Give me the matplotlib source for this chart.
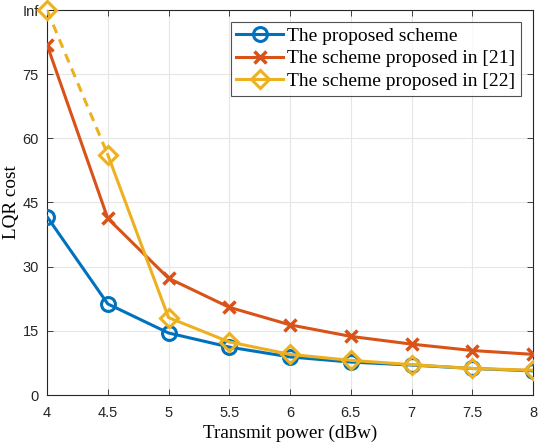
import numpy as np
import matplotlib
matplotlib.use("Agg")
import matplotlib.pyplot as plt

power = [4, 4.5, 5, 5.5, 6, 6.5, 7, 7.5, 8]
proposed = [41.7, 21.3, 14.5, 11.2, 8.9, 7.7, 7.0, 6.2, 5.65]
scheme21 = [81.9, 41.3, 27.3, 20.5, 16.4, 13.7, 11.9, 10.4, 9.5]
scheme22 = [np.inf, 56.2, 18.1, 12.4, 9.5, 8.1, 7.1, 6.2, 5.8]

yticks = [0, 15, 30, 45, 60, 75, 90]
yticklabels = ["0", "15", "30", "45", "60", "75", "Inf"]
xticks = [4, 4.5, 5, 5.5, 6, 6.5, 7, 7.5, 8]
xticklabels = ["4", "4.5", "5", "5.5", "6", "6.5", "7", "7.5", "8"]

c_blue = "#0072BD"
c_orange = "#D95319"
c_yellow = "#EDB120"

ymax = yticks[-1]

fig = plt.figure(figsize=(5.42, 4.44), dpi=100)
ax = fig.add_axes([47/542, 49/444, (533-47)/542, (395-10)/444])

lw = 2.2
ax.plot(power, proposed, color=c_blue, lw=lw, marker="o", ms=10, mfc="none",
        mew=2.2, label="The proposed scheme", zorder=3)
ax.plot(power, scheme21, color=c_orange, lw=lw, marker="x", ms=8, mew=2.5,
        label="The scheme proposed in [21]", zorder=3)

y22 = [ymax if np.isinf(v) else v for v in scheme22]
finite = [i for i, v in enumerate(scheme22) if np.isfinite(v)]
inf_idx = [i for i, v in enumerate(scheme22) if not np.isfinite(v)]
ax.plot([power[i] for i in finite], [y22[i] for i in finite], color=c_yellow,
        lw=lw, marker="D", ms=9, mfc="none", mew=2.2,
        label="The scheme proposed in [22]", zorder=4)
for i in inf_idx:
    j = i + 1
    ax.plot([power[i], power[j]], [y22[i], y22[j]], color=c_yellow, lw=lw,
            ls=(0, (3, 2.2)), zorder=4)
    ax.plot([power[i]], [y22[i]], color=c_yellow, marker="D", ms=9,
            mfc="none", mew=2.2, zorder=5, clip_on=False)

ax.set_xlim(4, 8)
ax.set_ylim(0, ymax)
ax.set_xticks(xticks)
ax.set_xticklabels(xticklabels)
ax.set_yticks(yticks)
ax.set_yticklabels(yticklabels)
for lab in ax.get_xticklabels() + ax.get_yticklabels():
    lab.set_family("Liberation Sans")
    lab.set_fontsize(10.5)
    lab.set_color("#262626")

ax.tick_params(direction="in", top=True, right=True, length=4, width=0.6,
               color="#262626")
ax.tick_params(axis="x", pad=8)
ax.tick_params(axis="y", pad=6)
ax.grid(True, color="#e6e6e6", lw=0.8)
ax.set_axisbelow(True)
for s in ax.spines.values():
    s.set_color("#262626")
    s.set_linewidth(0.8)

ax.set_xlabel("Transmit power (dBw)", family="Liberation Serif", fontsize=13.8,
              labelpad=3)
ax.set_ylabel("LQR cost", family="Liberation Serif", fontsize=13.8, labelpad=2)

leg = ax.legend(loc="upper right", bbox_to_anchor=(0.975, 0.97),
                prop={"family": "Liberation Serif", "size": 14},
                frameon=True, fancybox=False, edgecolor="#262626",
                handlelength=2.4, handletextpad=0.2, borderpad=0.3,
                labelspacing=0.25, borderaxespad=0.0)
leg.get_frame().set_linewidth(0.8)

fig.savefig("out.png", dpi=100)
